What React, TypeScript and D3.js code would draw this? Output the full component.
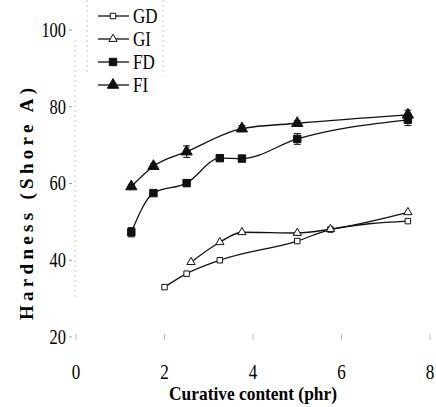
import React from "react";
import * as d3 from "d3";

const xTicks = [0, 2, 4, 6, 8];
const yTicks = [20, 40, 60, 80, 100];

const gdX = [2, 2.5, 3.25, 5, 5.75, 7.5];
const gdY = [33, 36.5, 40, 45, 48, 50.2];
const giX = [2.6, 3.25, 3.75, 5, 5.75, 7.5];
const giY = [39.5, 44.7, 47.3, 47.1, 48.1, 52.5];
const fdX = [1.25, 1.75, 2.5, 3.25, 3.75, 5, 7.5];
const fdY = [47.3, 57.5, 60.1, 66.6, 66.5, 71.6, 76.6];
const fdErr = [1.2, 0.6, 0.8, 0.6, 0.8, 1.4, 1.5];
const fiX = [1.25, 1.75, 2.5, 3.75, 5, 7.5];
const fiY = [59.2, 64.5, 68.3, 74.3, 75.7, 77.9];
const fiErr = [0.6, 0.6, 1.5, 0.8, 0.6, 1.2];

const series = [
  { name: "GD", xs: gdX, ys: gdY, err: [], shape: "square", filled: false },
  { name: "GI", xs: giX, ys: giY, err: [], shape: "triangle", filled: false },
  { name: "FD", xs: fdX, ys: fdY, err: fdErr, shape: "square", filled: true },
  { name: "FI", xs: fiX, ys: fiY, err: fiErr, shape: "triangle", filled: true },
];

const font = "Liberation Serif, Times New Roman, serif";

function Marker({ x, y, shape, filled }) {
  const sym = d3
    .symbol()
    .type(shape === "square" ? d3.symbolSquare : d3.symbolTriangle)
    .size(filled ? 55 : 30)();
  return (
    <path
      d={sym}
      transform={`translate(${x},${y})`}
      fill={filled ? "#111" : "#fff"}
      stroke="#111"
      strokeWidth={1}
    />
  );
}

export default function App() {
  const x = d3.scaleLinear().domain([0, 8]).range([76, 430]);
  const y = d3.scaleLinear().domain([20, 100]).range([337, 30]);
  const line = d3
    .line<[number, number]>()
    .x((d) => x(d[0]))
    .y((d) => y(d[1]))
    .curve(d3.curveMonotoneX);

  return (
    <svg
      width={436}
      height={407}
      style={{ position: "absolute", left: 0, top: 0, background: "#fff" }}
    >
      {/* faint scan-like guides */}
      <line x1={75} x2={75} y1={40} y2={300} stroke="#bbb" strokeDasharray="2,3" strokeWidth={0.8} />
      <line x1={87} x2={87} y1={0} y2={72} stroke="#bbb" strokeDasharray="2,3" strokeWidth={0.8} />
      <line x1={163} x2={163} y1={0} y2={76} stroke="#bbb" strokeDasharray="2,3" strokeWidth={0.8} />

      {yTicks.map((t) => (
        <g key={"y" + t}>
          <line x1={69} x2={72} y1={y(t)} y2={y(t)} stroke="#999" />
          <text
            x={66}
            y={y(t)}
            dy="0.35em"
            textAnchor="end"
            fontFamily={font}
            fontSize={20}
            transform="translate(66,0) scale(0.82,1) translate(-66,0)"
          >
            {t}
          </text>
        </g>
      ))}
      {xTicks.map((t) => (
        <g key={"x" + t}>
          <line x1={x(t)} x2={x(t)} y1={334} y2={340} stroke="#aaa" strokeWidth={0.8} />
          <text
            x={x(t)}
            y={379}
            textAnchor="middle"
            fontFamily={font}
            fontSize={20}
            transform={`translate(${x(t)},0) scale(0.85,1) translate(${-x(t)},0)`}
          >
            {t}
          </text>
        </g>
      ))}

      <text
        transform="translate(33,204) rotate(-90)"
        textAnchor="middle"
        fontFamily={font}
        fontSize={19}
        fontWeight="bold"
        textLength={232}
        lengthAdjust="spacing"
      >
        Hardness (Shore A)
      </text>
      <text
        x={253}
        y={400}
        textAnchor="middle"
        fontFamily={font}
        fontSize={19}
        fontWeight="bold"
        textLength={168}
        lengthAdjust="spacingAndGlyphs"
      >
        Curative content (phr)
      </text>

      {series.map((s) => {
        const pts = s.xs.map((v, i) => [v, s.ys[i]] as [number, number]);
        return (
          <g key={s.name}>
            <path d={line(pts) || ""} fill="none" stroke="#111" strokeWidth={1.3} />
            {s.err.map((e, i) => (
              <g key={i} stroke="#111" strokeWidth={1}>
                <line x1={x(s.xs[i])} x2={x(s.xs[i])} y1={y(s.ys[i] - e)} y2={y(s.ys[i] + e)} />
                <line x1={x(s.xs[i]) - 3.5} x2={x(s.xs[i]) + 3.5} y1={y(s.ys[i] - e)} y2={y(s.ys[i] - e)} />
                <line x1={x(s.xs[i]) - 3.5} x2={x(s.xs[i]) + 3.5} y1={y(s.ys[i] + e)} y2={y(s.ys[i] + e)} />
              </g>
            ))}
            {pts.map((p, i) => (
              <Marker key={i} x={x(p[0])} y={y(p[1])} shape={s.shape} filled={s.filled} />
            ))}
          </g>
        );
      })}

      {series.map((s, i) => {
        const ly = 16 + i * 23;
        return (
          <g key={"leg" + s.name}>
            <line x1={98} x2={129} y1={ly} y2={ly} stroke="#111" strokeWidth={1.3} />
            <Marker x={113} y={ly} shape={s.shape} filled={s.filled} />
            <text
              x={133}
              y={ly}
              dy="0.35em"
              fontFamily={font}
              fontSize={20}
              transform="translate(133,0) scale(0.85,1) translate(-133,0)"
            >
              {s.name}
            </text>
          </g>
        );
      })}
    </svg>
  );
}
